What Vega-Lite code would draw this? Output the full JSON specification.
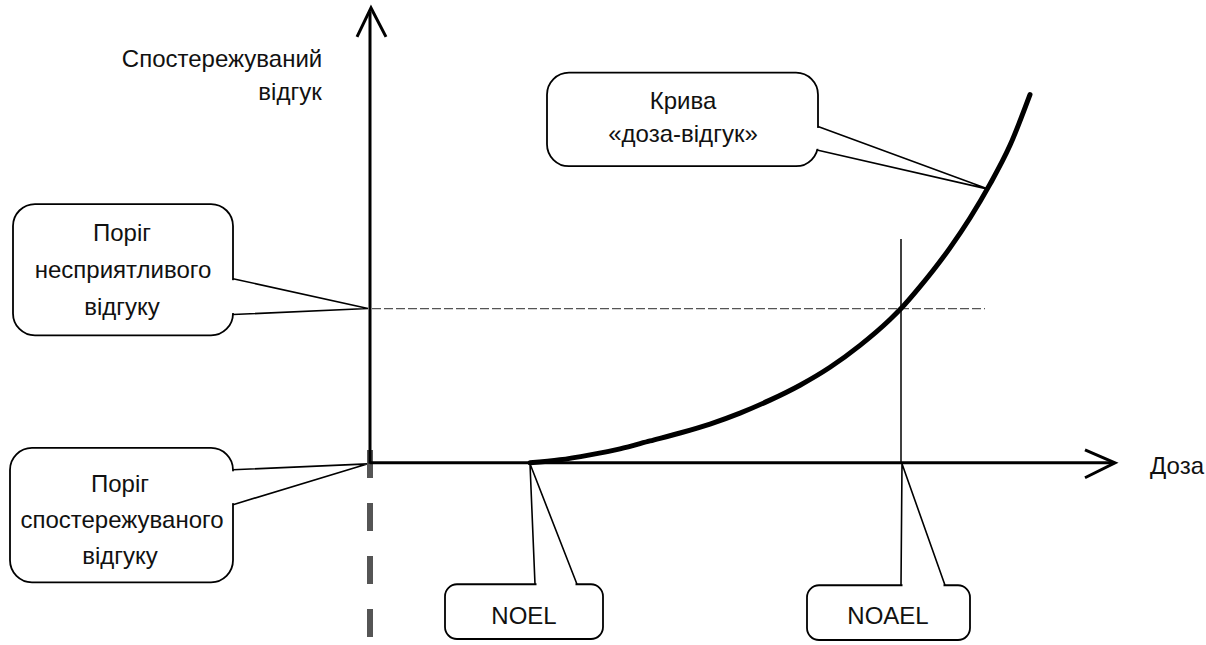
{
  "$schema": "https://vega.github.io/schema/vega-lite/v6.json",
  "autosize": {"type": "fit", "contains": "padding"},
  "width": 1206,
  "height": 645,
  "padding": 0,
  "background": "white",
  "config": {"view": {"stroke": null}},
  "datasets": {
    "curve": [
      {"x": 530, "y": 465}, {"x": 560, "y": 462}, {"x": 590, "y": 457}, {"x": 620, "y": 451},
      {"x": 650, "y": 443}, {"x": 680, "y": 435}, {"x": 710, "y": 426}, {"x": 740, "y": 415},
      {"x": 770, "y": 402}, {"x": 800, "y": 387}, {"x": 830, "y": 369}, {"x": 860, "y": 347},
      {"x": 890, "y": 321}, {"x": 901, "y": 310}, {"x": 920, "y": 288}, {"x": 950, "y": 249},
      {"x": 970, "y": 219}, {"x": 990, "y": 185}, {"x": 1010, "y": 146}, {"x": 1030, "y": 95}
    ],
    "axes": [
      {"id": "yaxis", "ord": 1, "x": 370, "y": 466}, {"id": "yaxis", "ord": 2, "x": 370, "y": 12},
      {"id": "xaxis", "ord": 1, "x": 370, "y": 465}, {"id": "xaxis", "ord": 2, "x": 1112, "y": 465},
      {"id": "yarrow", "ord": 1, "x": 357, "y": 37}, {"id": "yarrow", "ord": 2, "x": 371, "y": 8}, {"id": "yarrow", "ord": 3, "x": 386, "y": 37},
      {"id": "xarrow", "ord": 1, "x": 1085, "y": 452}, {"id": "xarrow", "ord": 2, "x": 1115, "y": 465}, {"id": "xarrow", "ord": 3, "x": 1085, "y": 480}
    ],
    "pointers": [
      {"id": "p1", "ord": 1, "x": 818, "y": 127}, {"id": "p1", "ord": 2, "x": 988, "y": 190}, {"id": "p1", "ord": 3, "x": 818, "y": 151},
      {"id": "p2", "ord": 1, "x": 233, "y": 280}, {"id": "p2", "ord": 2, "x": 368, "y": 310}, {"id": "p2", "ord": 3, "x": 233, "y": 316},
      {"id": "p3", "ord": 1, "x": 233, "y": 472}, {"id": "p3", "ord": 2, "x": 368, "y": 466}, {"id": "p3", "ord": 3, "x": 233, "y": 507},
      {"id": "p4", "ord": 1, "x": 535, "y": 587}, {"id": "p4", "ord": 2, "x": 530, "y": 466}, {"id": "p4", "ord": 3, "x": 577, "y": 587},
      {"id": "p5", "ord": 1, "x": 901, "y": 588}, {"id": "p5", "ord": 2, "x": 902, "y": 466}, {"id": "p5", "ord": 3, "x": 945, "y": 588}
    ],
    "hguide": [{"x": 372, "x2": 985, "y": 310}],
    "vguide": [{"x": 901, "y": 240, "y2": 466}],
    "dashed": [{"x": 370, "y": 452, "y2": 645}],
    "bigboxes": [
      {"x": 547, "x2": 818, "y": 73, "y2": 167},
      {"x": 13, "x2": 233, "y": 205, "y2": 337},
      {"x": 10, "x2": 233, "y": 450, "y2": 585}
    ],
    "smallboxes": [
      {"x": 445, "x2": 603, "y": 587, "y2": 642},
      {"x": 807, "x2": 970, "y": 588, "y2": 643}
    ],
    "gaps": [
      {"x": 818, "x2": 818, "y": 128.5, "y2": 149.5},
      {"x": 233, "x2": 233, "y": 281.5, "y2": 314.5},
      {"x": 233, "x2": 233, "y": 473.5, "y2": 505.5},
      {"x": 536.5, "x2": 575.5, "y": 587, "y2": 587},
      {"x": 902.5, "x2": 943.5, "y": 588, "y2": 588}
    ],
    "labels": [
      {"x": 222, "y": 67, "text": "Спостережуваний"},
      {"x": 290, "y": 100, "text": "відгук"},
      {"x": 683, "y": 110, "text": "Крива"},
      {"x": 683, "y": 143, "text": "«доза-відгук»"},
      {"x": 122, "y": 242, "text": "Поріг"},
      {"x": 123, "y": 279, "text": "несприятливого"},
      {"x": 122, "y": 316, "text": "відгуку"},
      {"x": 120, "y": 494, "text": "Поріг"},
      {"x": 122, "y": 530, "text": "спостережуваного"},
      {"x": 120, "y": 567, "text": "відгуку"},
      {"x": 524, "y": 627, "text": "NOEL"},
      {"x": 888, "y": 627, "text": "NOAEL"},
      {"x": 1177, "y": 476, "text": "Доза"}
    ]
  },
  "layer": [
    {
      "data": {"name": "bigboxes"},
      "mark": {"type": "rect", "fill": null, "stroke": "black", "strokeWidth": 1.8, "cornerRadius": 22},
      "encoding": {
        "x": {"field": "x", "type": "quantitative", "scale": {"domain": [0, 1206], "nice": false, "zero": false}, "axis": null},
        "x2": {"field": "x2"},
        "y": {"field": "y", "type": "quantitative", "scale": {"domain": [0, 645], "reverse": true, "nice": false, "zero": false}, "axis": null},
        "y2": {"field": "y2"}
      }
    },
    {
      "data": {"name": "smallboxes"},
      "mark": {"type": "rect", "fill": null, "stroke": "black", "strokeWidth": 1.8, "cornerRadius": 12},
      "encoding": {
        "x": {"field": "x", "type": "quantitative", "scale": {"domain": [0, 1206], "nice": false, "zero": false}, "axis": null},
        "x2": {"field": "x2"},
        "y": {"field": "y", "type": "quantitative", "scale": {"domain": [0, 645], "reverse": true, "nice": false, "zero": false}, "axis": null},
        "y2": {"field": "y2"}
      }
    },
    {
      "data": {"name": "gaps"},
      "mark": {"type": "rule", "color": "white", "strokeWidth": 4, "strokeCap": "butt"},
      "encoding": {
        "x": {"field": "x", "type": "quantitative", "scale": {"domain": [0, 1206], "nice": false, "zero": false}, "axis": null},
        "x2": {"field": "x2"},
        "y": {"field": "y", "type": "quantitative", "scale": {"domain": [0, 645], "reverse": true, "nice": false, "zero": false}, "axis": null},
        "y2": {"field": "y2"}
      }
    },
    {
      "data": {"name": "pointers"},
      "mark": {"type": "line", "color": "black", "strokeWidth": 1.6, "strokeJoin": "miter"},
      "encoding": {
        "x": {"field": "x", "type": "quantitative", "scale": {"domain": [0, 1206], "nice": false, "zero": false}, "axis": null},
        "y": {"field": "y", "type": "quantitative", "scale": {"domain": [0, 645], "reverse": true, "nice": false, "zero": false}, "axis": null},
        "detail": {"field": "id"},
        "order": {"field": "ord"}
      }
    },
    {
      "data": {"name": "hguide"},
      "mark": {"type": "rule", "color": "#555", "strokeWidth": 1.2, "strokeDash": [9, 3]},
      "encoding": {
        "x": {"field": "x", "type": "quantitative", "scale": {"domain": [0, 1206], "nice": false, "zero": false}, "axis": null},
        "x2": {"field": "x2"},
        "y": {"field": "y", "type": "quantitative", "scale": {"domain": [0, 645], "reverse": true, "nice": false, "zero": false}, "axis": null}
      }
    },
    {
      "data": {"name": "vguide"},
      "mark": {"type": "rule", "color": "black", "strokeWidth": 1.5},
      "encoding": {
        "x": {"field": "x", "type": "quantitative", "scale": {"domain": [0, 1206], "nice": false, "zero": false}, "axis": null},
        "y": {"field": "y", "type": "quantitative", "scale": {"domain": [0, 645], "reverse": true, "nice": false, "zero": false}, "axis": null},
        "y2": {"field": "y2"}
      }
    },
    {
      "data": {"name": "dashed"},
      "mark": {"type": "rule", "color": "#555", "strokeWidth": 6, "strokeDash": [28, 25], "strokeCap": "butt"},
      "encoding": {
        "x": {"field": "x", "type": "quantitative", "scale": {"domain": [0, 1206], "nice": false, "zero": false}, "axis": null},
        "y": {"field": "y", "type": "quantitative", "scale": {"domain": [0, 645], "reverse": true, "nice": false, "zero": false}, "axis": null},
        "y2": {"field": "y2"}
      }
    },
    {
      "data": {"name": "axes"},
      "mark": {"type": "line", "color": "black", "strokeWidth": 3, "strokeJoin": "miter"},
      "encoding": {
        "x": {"field": "x", "type": "quantitative", "scale": {"domain": [0, 1206], "nice": false, "zero": false}, "axis": null},
        "y": {"field": "y", "type": "quantitative", "scale": {"domain": [0, 645], "reverse": true, "nice": false, "zero": false}, "axis": null},
        "detail": {"field": "id"},
        "order": {"field": "ord"}
      }
    },
    {
      "data": {"name": "curve"},
      "mark": {"type": "line", "color": "black", "strokeWidth": 5, "strokeCap": "round", "interpolate": "monotone"},
      "encoding": {
        "x": {"field": "x", "type": "quantitative", "scale": {"domain": [0, 1206], "nice": false, "zero": false}, "axis": null},
        "y": {"field": "y", "type": "quantitative", "scale": {"domain": [0, 645], "reverse": true, "nice": false, "zero": false}, "axis": null}
      }
    },
    {
      "data": {"name": "labels"},
      "mark": {"type": "text", "font": "Liberation Sans", "fontSize": 24, "align": "center", "baseline": "alphabetic", "color": "#111"},
      "encoding": {
        "x": {"field": "x", "type": "quantitative", "scale": {"domain": [0, 1206], "nice": false, "zero": false}, "axis": null},
        "y": {"field": "y", "type": "quantitative", "scale": {"domain": [0, 645], "reverse": true, "nice": false, "zero": false}, "axis": null},
        "text": {"field": "text"}
      }
    }
  ]
}
